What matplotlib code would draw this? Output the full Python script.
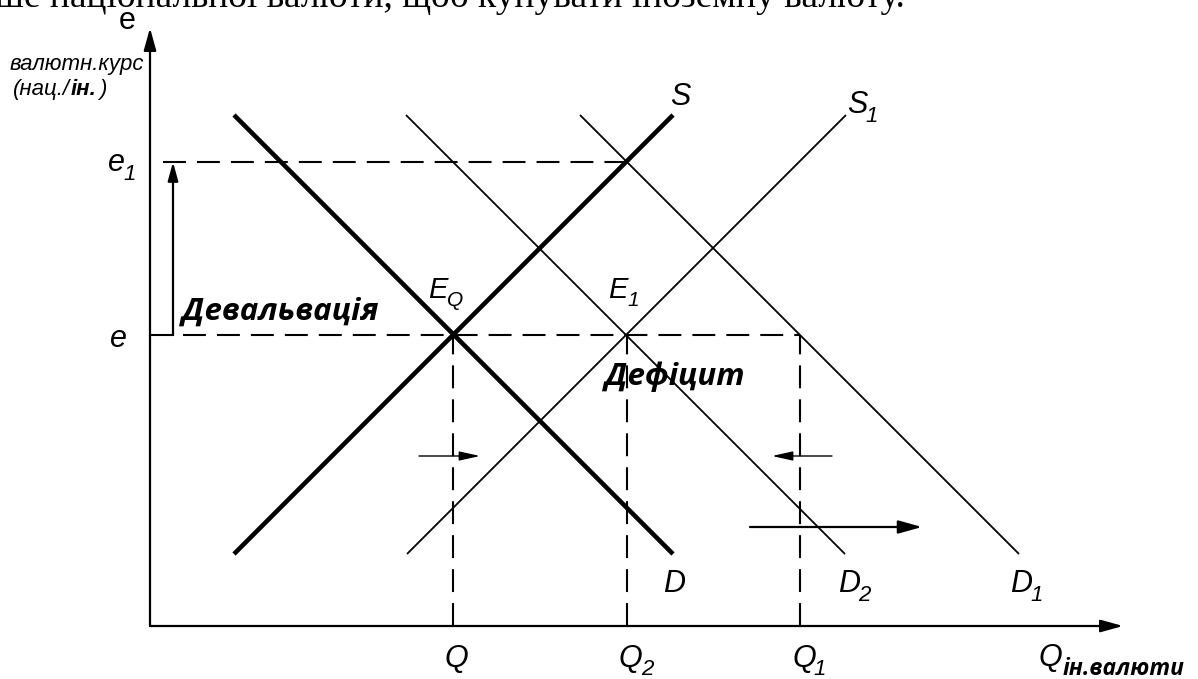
import matplotlib
matplotlib.use('Agg')
import matplotlib.pyplot as plt

plt.rcParams['font.family'] = ['Liberation Sans', 'DejaVu Sans']

# levels (chart units, origin at the axes corner)
q_levels = [303, 477, 650]          # Q, Q2, Q1
q_names = ['Q', 'Q', 'Q']
q_subs = ['', '2', '1']
e_level = 291
e1_level = 464

# curves
curve_x = [[84, 523], [84, 523], [257, 696], [256, 695], [430, 869]]
curve_y = [[72, 511], [511, 72], [72, 511], [511, 72], [511, 72]]
curve_thick = [True, True, False, False, False]
curve_names = ['S', 'D', 'S', 'D', 'D']
curve_subs = ['', '', '1', '2', '1']
curve_label_pos = [(520, 521), (513, 34), (697, 513), (688, 34), (860, 34)]

x_axis_end = 973
y_axis_end = 598

fig = plt.figure(figsize=(11.98, 6.79), dpi=100)
ax = fig.add_axes([0, 0, 1, 1])
ax.set_xlim(-150, 1048)
ax.set_ylim(-53, 626)
ax.axis('off')


def label(x, y, main, sub='', size=22, subsize=16, drop=2, gap=-2):
    # italic letter with a lowered italic index after it
    t = ax.text(x, y, main, fontsize=size, style='italic', ha='left', va='baseline')
    if sub:
        ax.annotate(sub, xy=(1, 0), xycoords=t, xytext=(gap, -drop), textcoords='offset pixels',
                    fontsize=subsize, style='italic', ha='left', va='baseline')
    return t


ak = dict(color='black', lw=1.6, shrinkA=0, shrinkB=0)
head = '-|>,head_length=0.9,head_width=0.25'

# axes with arrow heads
ax.annotate('', xy=(0, y_axis_end), xytext=(0, 0),
            arrowprops=dict(arrowstyle=head, mutation_scale=15, **ak))
ax.annotate('', xy=(x_axis_end, 0), xytext=(0, 0),
            arrowprops=dict(arrowstyle=head, mutation_scale=15, **ak))

# supply/demand curves
for xs, ys, thick in zip(curve_x, curve_y, curve_thick):
    ax.plot(xs, ys, color='black', lw=3.3 if thick else 1.3, solid_capstyle='butt')

for nm, sb, (lx, ly) in zip(curve_names, curve_subs, curve_label_pos):
    label(lx, ly, nm, sb)

# dashed guides
dash = (0, (11, 5.3))
ax.plot([13, q_levels[1]], [e1_level, e1_level], color='black', lw=1.5, ls=dash)
ax.plot([33, q_levels[2]], [e_level, e_level], color='black', lw=1.5, ls=dash)
for q in q_levels:
    ax.plot([q, q], [0, e_level], color='black', lw=1.5, ls=dash)

# devaluation bracket e -> e1
ax.plot([0, 23], [e_level, e_level], color='black', lw=1.5)
ax.annotate('', xy=(23, e1_level), xytext=(23, e_level),
            arrowprops=dict(arrowstyle='-|>,head_length=0.8,head_width=0.22', mutation_scale=14, **ak))

# small shift arrows and the big one
thin = dict(arrowstyle='-|>,head_length=0.9,head_width=0.2', mutation_scale=14,
            color='black', lw=1.0, shrinkA=0, shrinkB=0)
ax.annotate('', xy=(330, 170), xytext=(269, 170), arrowprops=thin)
ax.annotate('', xy=(622, 170), xytext=(682, 170), arrowprops=thin)
ax.annotate('', xy=(772, 99), xytext=(600, 99),
            arrowprops=dict(arrowstyle=head, mutation_scale=16, **ak))

# axis labels
ax.text(-23, 605, 'e', fontsize=22, ha='center', va='center')
ax.text(-140, 556, 'валютн.курс', fontsize=16, style='italic', ha='left', va='baseline')
p1 = ax.text(-137, 531, '(нац./', fontsize=16, style='italic', ha='left', va='baseline')
p2 = ax.annotate('ін.', xy=(1, 0), xycoords=p1, xytext=(1, 0), textcoords='offset pixels',
                 fontsize=16, style='italic', weight='bold', ha='left', va='bottom')
ax.annotate(')', xy=(1, 0), xycoords=p2, xytext=(2, 0), textcoords='offset pixels',
            fontsize=16, style='italic', ha='left', va='bottom')
label(-42, 455, 'e', '1')
label(-40, 279, 'e')

for q, nm, sb in zip(q_levels, q_names, q_subs):
    label(q - 8, -41, nm, sb, subsize=16, drop=1, gap=-2)
qt = label(888, -40, 'Q')
ax.annotate('ін.валюти', xy=(1, 0), xycoords=qt, xytext=(1, -2), textcoords='offset pixels',
            fontsize=16.5, family='Open Sans', style='italic', weight='bold', ha='left', va='baseline')

# point labels
label(278, 328, 'E', 'Q', size=21, subsize=15, gap=0)
label(458, 328, 'E', '1', size=21, subsize=15, gap=0)

ax.text(32, 306, 'Девальвація', fontsize=22.5, family='Open Sans', style='italic', weight='bold',
        ha='left', va='baseline')
ax.text(455, 241, 'Дефіцит', fontsize=22.5, family='Open Sans', style='italic', weight='bold',
        ha='left', va='baseline')

# clipped line of page text above the chart
ax.text(-155, 619, 'ше національної валюти, щоб купувати іноземну валюту.', fontsize=27,
        family='Liberation Serif', ha='left', va='baseline')

fig.savefig('out.png', dpi=100)
